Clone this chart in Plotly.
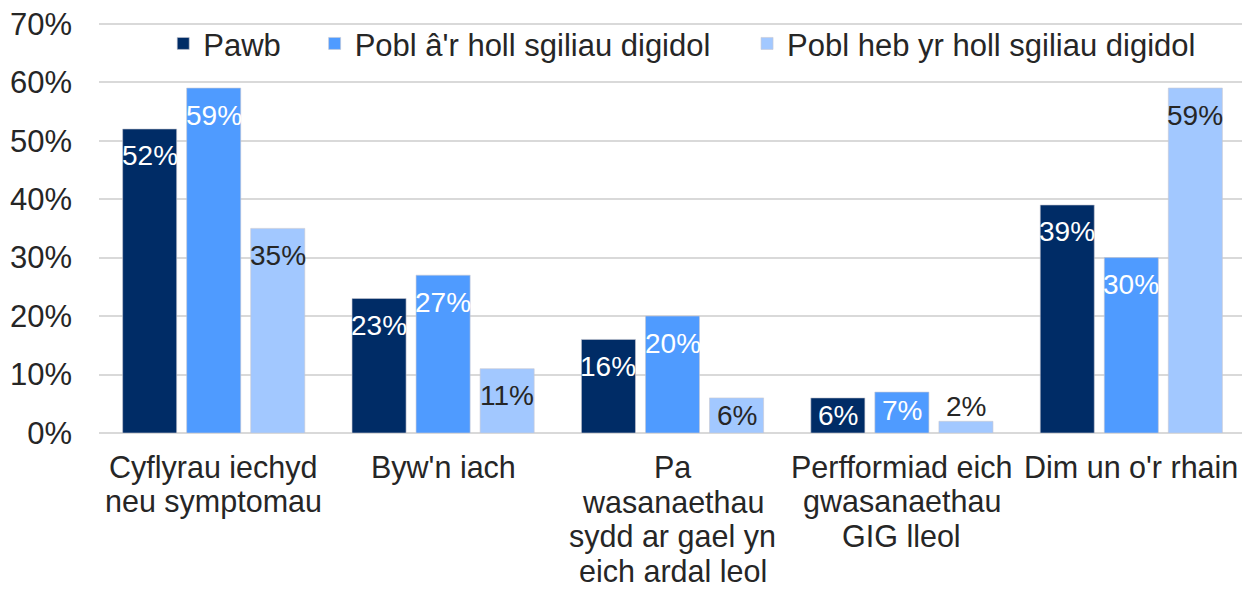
import plotly.graph_objects as go

categories = [
    "Cyflyrau iechyd<br>neu symptomau",
    "Byw'n iach",
    "Pa<br>wasanaethau<br>sydd ar gael yn<br>eich ardal leol",
    "Perfformiad eich<br>gwasanaethau<br>GIG lleol",
    "Dim un o'r rhain",
]
series_names = ["Pawb", "Pobl â'r holl sgiliau digidol", "Pobl heb yr holl sgiliau digidol"]
pawb = [52, 23, 16, 6, 39]
gyda_sgiliau = [59, 27, 20, 7, 30]
heb_sgiliau = [35, 11, 6, 2, 59]
y_ticks = [0, 10, 20, 30, 40, 50, 60, 70]

colors = ["#002C66", "#4F9BFF", "#A2C8FF"]
label_colors = ["#FFFFFF", "#FFFFFF", "#262626"]
FONT = "Liberation Sans, Arial, sans-serif"
TXT = "#262626"

all_series = [pawb, gyda_sgiliau, heb_sgiliau]
x_idx = list(range(len(categories)))
legend_ids = ["legend", "legend2", "legend3"]
legend_x = [0.0560, 0.1880, 0.5650]

fig = go.Figure()
for name, vals, col, lid in zip(series_names, all_series, colors, legend_ids):
    fig.add_trace(go.Bar(
        x=x_idx, y=vals, name=name, legend=lid,
        marker=dict(color=col, line=dict(color="rgba(200,200,210,0.6)", width=1)),
        hoverinfo="skip",
    ))

BARGAP = 0.1625
slot = (1 - BARGAP) / 3
annotations = []
# data labels
for s, (vals, lc) in enumerate(zip(all_series, label_colors)):
    for i, v in enumerate(vals):
        inside = v >= 4
        annotations.append(dict(
            x=i + (s - 1) * slot, y=v, xref="x", yref="y",
            text=f"{v}%", showarrow=False,
            yshift=(-27 if v >= 10 else -18) if inside else 15,
            font=dict(family=FONT, size=28, color=lc if inside else TXT),
        ))
# category labels (one annotation per line for tighter line spacing)
LINE_GAP = 34.6
for i, cat in enumerate(categories):
    for k, line in enumerate(cat.split("<br>")):
        annotations.append(dict(
            x=i, y=0, xref="x", yref="y", text=line, showarrow=False,
            yanchor="middle", yshift=-(34 + k * LINE_GAP),
            font=dict(family=FONT, size=30.5, color=TXT),
        ))

legend_common = dict(
    orientation="h", xanchor="left", y=0.947, yanchor="middle",
    font=dict(family=FONT, size=31, color=TXT),
    bgcolor="rgba(0,0,0,0)", itemclick=False, itemdoubleclick=False,
)

fig.update_layout(
    width=1242, height=582,
    margin=dict(l=91, r=4, t=14, b=157, autoexpand=False),
    paper_bgcolor="white", plot_bgcolor="white",
    barmode="group", bargap=BARGAP, bargroupgap=0.156,
    font=dict(family=FONT, size=30, color=TXT),
    showlegend=True,
    legend=dict(x=legend_x[0], **legend_common),
    legend2=dict(x=legend_x[1], **legend_common),
    legend3=dict(x=legend_x[2], **legend_common),
    annotations=annotations,
    xaxis=dict(
        tickmode="array", tickvals=x_idx, showticklabels=False,
        range=[-0.5, len(categories) - 0.5], automargin=False,
        showgrid=False, showline=False, zeroline=False, ticks="",
        fixedrange=True,
    ),
    yaxis=dict(
        range=[0, 70.3], tickmode="array", tickvals=y_ticks,
        ticktext=[f"{t}%" for t in y_ticks], automargin=False,
        showgrid=True, gridcolor="#D9D9D9", gridwidth=1.5,
        zeroline=True, zerolinecolor="#D9D9D9", zerolinewidth=1.5,
        showline=False, ticks="", ticklabelstandoff=26,
        ticklabeloverflow="allow",
        tickfont=dict(family=FONT, size=31, color=TXT),
        fixedrange=True,
    ),
)

fig.write_html("out.html")
